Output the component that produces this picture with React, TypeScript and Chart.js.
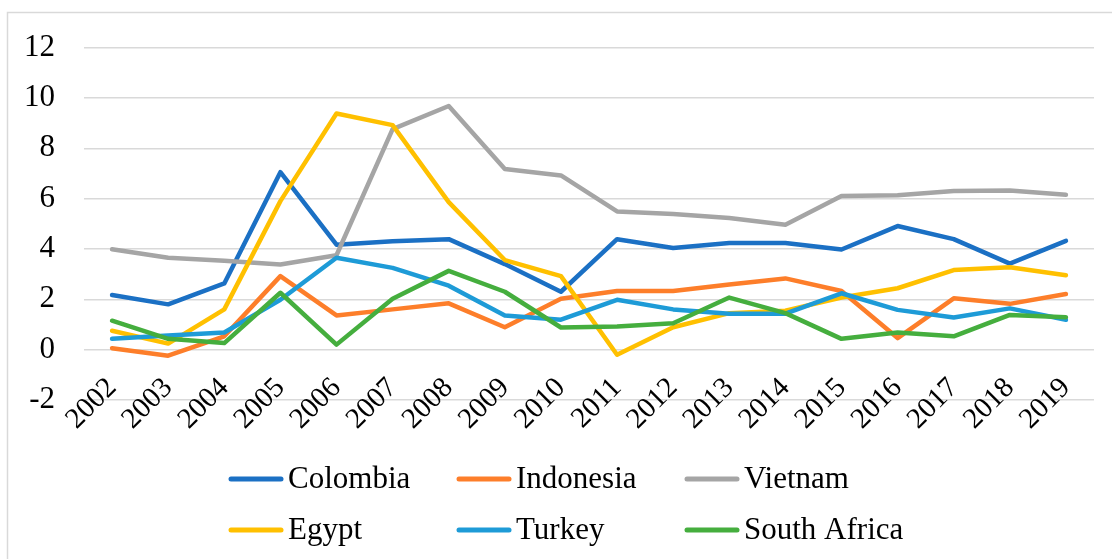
import React, { useEffect, useRef } from "react";
import { Chart, registerables } from "chart.js";

Chart.register(...registerables);

const years = ["2002","2003","2004","2005","2006","2007","2008","2009","2010","2011","2012","2013","2014","2015","2016","2017","2018","2019"];
const colombia = [2.17,1.80,2.63,7.05,4.17,4.31,4.39,3.40,2.30,4.39,4.04,4.24,4.24,3.98,4.91,4.39,3.42,4.32];
const indonesia = [0.06,-0.24,0.53,2.92,1.36,1.60,1.84,0.89,2.02,2.33,2.33,2.59,2.83,2.33,0.46,2.04,1.82,2.21];
const vietnam = [3.99,3.65,3.53,3.38,3.75,8.76,9.68,7.18,6.92,5.49,5.39,5.23,4.96,6.10,6.13,6.30,6.32,6.15];
const egypt = [0.75,0.24,1.60,5.90,9.38,8.92,5.86,3.56,2.92,-0.20,0.89,1.45,1.55,2.07,2.44,3.16,3.27,2.96];
const turkey = [0.43,0.56,0.68,1.98,3.65,3.25,2.54,1.36,1.19,1.98,1.60,1.43,1.43,2.24,1.58,1.28,1.64,1.19];
const southAfrica = [1.15,0.43,0.26,2.26,0.20,2.02,3.13,2.30,0.88,0.92,1.05,2.07,1.45,0.43,0.68,0.53,1.38,1.29];

const seriesNames = ["Colombia", "Indonesia", "Vietnam", "Egypt", "Turkey", "South Africa"];
const seriesValues = [colombia, indonesia, vietnam, egypt, turkey, southAfrica];
const seriesColors = ["#1b70c4", "#fd7e2a", "#a5a5a5", "#ffc000", "#1e9bd7", "#45ae3e"];

const FONT = "'Liberation Serif', 'Times New Roman', serif";

const framePlugin = {
  id: "frame",
  beforeDraw(chart: any) {
    const ctx = chart.ctx;
    ctx.save();
    ctx.fillStyle = "#ffffff";
    ctx.fillRect(0, 0, chart.width, chart.height);
    ctx.strokeStyle = "#d9d9d9";
    ctx.lineWidth = 1.5;
    ctx.strokeRect(7.5, 12.5, chart.width + 10, chart.height + 10);
    ctx.restore();
  },
};

const legendPlugin = {
  id: "gridLegend",
  afterDraw(chart: any) {
    const ctx = chart.ctx;
    const colX = [229, 457, 685];
    const rowY = [479, 530];
    ctx.save();
    ctx.font = `31px ${FONT}`;
    ctx.textBaseline = "middle";
    ctx.textAlign = "left";
    chart.data.datasets.forEach((ds: any, i: number) => {
      const x = colX[i % 3];
      const y = rowY[Math.floor(i / 3)];
      ctx.strokeStyle = ds.borderColor;
      ctx.lineWidth = 5;
      ctx.lineCap = "round";
      ctx.beginPath();
      ctx.moveTo(x + 2, y);
      ctx.lineTo(x + 52, y);
      ctx.stroke();
      ctx.fillStyle = "#000000";
      ctx.fillText(ds.label, x + 59, y + 1);
    });
    ctx.restore();
  },
};

export default function App() {
  const ref = useRef<HTMLCanvasElement | null>(null);
  useEffect(() => {
    if (!ref.current) return;
    const chart = new Chart(ref.current, {
      type: "line",
      data: {
        labels: years,
        datasets: seriesNames.map((name, i) => ({
          label: name,
          data: seriesValues[i],
          borderColor: seriesColors[i],
          backgroundColor: seriesColors[i],
          borderWidth: 4.5,
          pointRadius: 0,
          tension: 0,
          borderCapStyle: "round",
          borderJoinStyle: "round",
          order: seriesNames.length - i,
        })),
      },
      options: {
        animation: false,
        responsive: false,
        maintainAspectRatio: false,
        layout: { padding: { left: 0, top: 44, right: 18, bottom: 0 } },
        plugins: {
          legend: { display: false },
          tooltip: { enabled: false },
        },
        scales: {
          x: {
            type: "category",
            offset: true,
            grid: { display: false, drawTicks: false },
            border: { display: false },
            ticks: {
              autoSkip: false,
              minRotation: 45,
              maxRotation: 45,
              padding: -29,
              color: "#000000",
              font: { family: FONT, size: 29 },
            },
            afterFit: (scale: any) => {
              scale.height = 159;
              scale._computeLabelArea = () => undefined;
            },
          },
          y: {
            min: -2,
            max: 12,
            grid: { color: "#d9d9d9", lineWidth: 1.5, drawTicks: false },
            border: { display: false },
            ticks: {
              stepSize: 2,
              padding: 29,
              color: "#000000",
              font: { family: FONT, size: 31 },
            },
            afterFit: (scale: any) => {
              scale.width = 84;
            },
          },
        },
      },
      plugins: [framePlugin, legendPlugin],
    });
    return () => chart.destroy();
  }, []);
  return (
    <div style={{ position: "fixed", left: 0, top: 0, width: 1112, height: 559, background: "#fff" }}>
      <canvas ref={ref} width={1112} height={559} style={{ width: 1112, height: 559, display: "block" }} />
    </div>
  );
}
